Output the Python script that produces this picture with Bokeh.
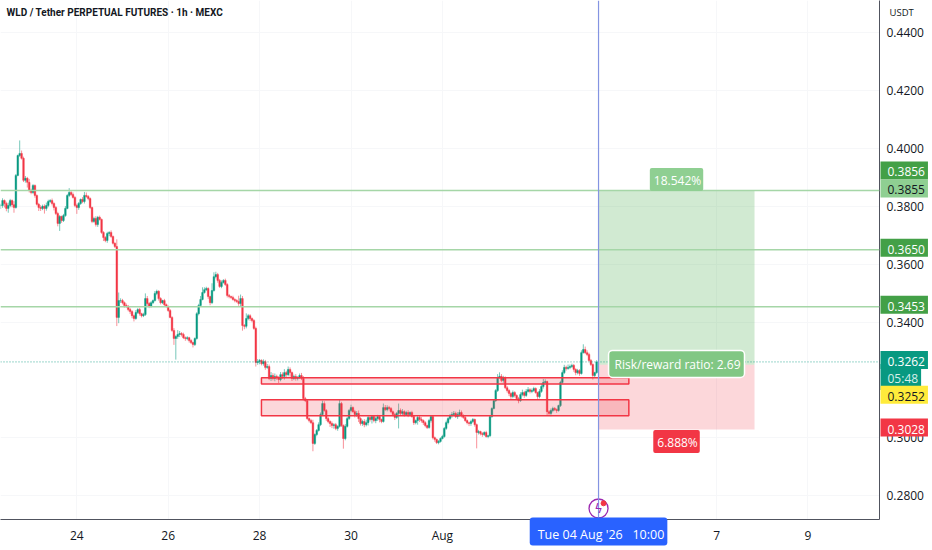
from bokeh.plotting import figure
from bokeh.layouts import column
from bokeh.models import FixedTicker, Label, Span, ColumnDataSource, Range1d
from bokeh.embed import file_html
from bokeh.resources import INLINE

closes = [
.3803,.3820,.3810,.3793,.3803,.3820,.3806,.3796,.3907,.3976,
.3983,.3966,.3890,.3897,.3883,.3855,.3848,.3872,.3838,.3807,
.3796,.3793,.3800,.3793,.3803,.3817,.3820,.3810,.3796,.3775,
.3741,.3765,.3751,.3768,.3793,.3838,.3848,.3841,.3831,.3803,
.3796,.3810,.3824,.3817,.3838,.3834,.3827,.3796,.3748,.3758,
.3737,.3762,.3755,.3710,.3692,.3682,.3706,.3710,.3696,.3672,
.3661,.3416,.3474,.3474,.3467,.3457,.3454,.3443,.3436,.3422,
.3412,.3433,.3443,.3429,.3422,.3426,.3481,.3464,.3454,.3467,
.3474,.3499,.3506,.3481,.3467,.3474,.3460,.3454,.3440,.3416,
.3371,.3343,.3350,.3357,.3360,.3357,.3346,.3343,.3346,.3336,
.3329,.3322,.3343,.3429,.3457,.3478,.3502,.3512,.3516,.3488,
.3467,.3509,.3557,.3564,.3544,.3523,.3537,.3544,.3530,.3492,
.3488,.3485,.3478,.3474,.3471,.3464,.3481,.3388,.3385,.3412,
.3422,.3412,.3405,.3378,.3260,.3263,.3267,.3256,.3263,.3243,
.3246,.3205,.3215,.3205,.3212,.3208,.3201,.3218,.3212,.3225,
.3218,.3236,.3225,.3205,.3212,.3205,.3208,.3215,.3205,.3135,
.3128,.3066,.3059,.3052,.2980,.3011,.3025,.3045,.3080,.3118,
.3094,.3066,.3056,.3049,.3042,.3045,.3032,.3039,.3118,.3042,
.2997,.3039,.3066,.3094,.3104,.3090,.3080,.3084,.3066,.3049,
.3056,.3045,.3052,.3070,.3063,.3073,.3059,.3066,.3073,.3063,
.3056,.3104,.3097,.3104,.3101,.3090,.3080,.3070,.3084,.3094,
.3084,.3090,.3080,.3087,.3080,.3087,.3073,.3052,.3059,.3070,
.3063,.3059,.3052,.3042,.3035,.3059,.3073,.3000,.2994,.2983,
.2987,.2997,.3004,.3032,.3052,.3066,.3076,.3080,.3084,.3073,
.3080,.3087,.3076,.3070,.3059,.3052,.3049,.3056,.3063,.3045,
.3018,.3021,.3014,.3011,.3018,.3004,.3007,.3073,.3101,.3128,
.3163,.3208,.3212,.3198,.3208,.3173,.3163,.3153,.3142,.3156,
.3146,.3135,.3128,.3149,.3156,.3146,.3160,.3166,.3160,.3163,
.3170,.3156,.3142,.3160,.3177,.3191,.3194,.3090,.3084,.3094,
.3101,.3097,.3094,.3111,.3191,.3225,.3243,.3239,.3243,.3246,
.3250,.3236,.3225,.3232,.3222,.3294,.3305,.3294,.3288,.3267,
.3253,.3215,.3225,.3262]

wick_up = [
6,8,4,6,10,6,4,12,5,3, 45,10,6,8,5,12,6,5,4,3, 5,8,6,7,10,6,5,7,4,5, 6,5,3,6,8,4,15,6,7,4,
6,5,3,8,12,10,5,4,3,6, 8,5,6,3,4,5,6,4,7,3, 4,25,28,8,6,4,7,5,6,5, 4,8,5,6,3,6,18,9,5,5,
4,8,6,4,5,3,6,4,3,5, 4,8,4,15,9,5,6,4,5,3, 5,3,4,5,6,12,18,8,6,4, 3,25,15,10,6,5,7,4,6,4,
5,3,6,4,5,20,14,9,5,18, 6,5,4,5,6,9,5,4,8,6, 9,7,12,8,10,6,5,9,8,12, 6,10,7,4,6,8,5,7,9,8,
6,5,4,6,10,4,5,8,7,10, 8,5,6,4,7,5,6,4,14,6, 4,8,6,5,10,4,6,8,10,5, 6,8,10,5,6,4,5,7,6,4,
3,14,9,8,6,5,4,6,5,24, 7,9,5,6,8,4,6,3,4,7, 6,8,4,5,3,6,4,3,4,3, 5,4,6,5,7,5,6,9,8,6,
8,10,7,5,6,4,3,6,5,3, 4,6,3,5,4,6,3,4,4,5, 5,12,14,8,6,4,6,5,4,7, 5,4,6,8,10,6,8,9,5,7,
6,4,3,8,10,12,8,3,5,7, 6,5,4,3,6,8,9,6,10,7, 6,5,4,6,5,8,18,10,8,6, 5,4,3,6]

wick_dn = [
12,8,14,10,15,6,9,18,4,3, 5,4,6,8,18,7,6,5,8,4, 12,9,6,18,8,6,5,7,10,5, 10,26,8,5,4,3,6,5,4,6,
22,8,5,6,7,4,6,5,6,5, 7,8,4,5,12,6,8,9,5,4, 5,30,20,8,6,7,5,6,8,9, 10,4,5,7,6,5,5,8,6,4,
5,3,6,7,6,5,6,4,5,3, 5,22,73,8,9,7,5,8,6,7, 5,10,5,4,6,5,3,4,5,8, 9,5,4,6,8,5,6,4,5,7,
6,5,4,6,5,8,12,18,10,7, 6,8,6,5,14,8,9,6,7,8, 5,6,9,7,10,8,12,6,9,11, 8,6,14,9,6,8,7,5,6,6,
5,4,6,5,27,5,6,4,5,3, 4,8,6,12,9,11,6,8,4,5, 35,6,4,5,6,4,10,8,12,7, 8,9,6,10,7,14,6,9,8,10,
6,4,5,6,7,5,6,9,5,52, 6,8,7,5,9,6,4,8,6,14, 9,7,8,6,5,4,7,6,8,5, 6,4,3,4,5,6,5,7,6,5,
8,7,6,5,4,6,9,8,5,7, 55,7,6,8,5,4,6,5,4,3, 4,5,4,6,8,5,7,9,8,6, 7,5,9,4,6,8,5,4,7,6,
5,4,8,6,5,7,4,12,8,10, 6,5,8,4,5,6,5,7,4,6, 5,8,9,6,8,4,3,5,6,4, 5,14,6,4]

cursor_day = 35.4167          # Tue 04 Aug 10:00, days counted from 1 Jul
last_bar_day = 35.375
position_end_day = 38.83
zone_end_day = 36.08
zone_start_day = 28.04
target_levels = [0.3855, 0.3650, 0.3453]
entry_price = 0.3252
target_price = 0.3855
stop_price = 0.3028
last_price = 0.3262
zones_low = [0.3186, 0.3076]
zones_high = [0.3207, 0.3131]
price_ticks = [0.28, 0.30, 0.34, 0.36, 0.38, 0.40, 0.42, 0.44]
day_ticks = {24: "24", 26: "26", 28: "28", 30: "30", 32: "Aug", 38: "7", 40: "9"}

UP, DOWN = "#089981", "#f23645"
FONT = "Open Sans"
X0, X1, Y0, Y1 = 22.33, 41.565, 0.2717, 0.4512

n = len(closes)
days = [last_bar_day - (n - 1 - i) / 24 for i in range(n)]
opens = [closes[0]] + closes[:-1]
highs = [max(o, c) + w / 10000 for o, c, w in zip(opens, closes, wick_up)]
lows = [min(o, c) - w / 10000 for o, c, w in zip(opens, closes, wick_dn)]
colors = [UP if c >= o else DOWN for o, c in zip(opens, closes)]
src = ColumnDataSource(dict(x=days, o=opens, c=closes, h=highs, l=lows, col=colors))

main = figure(width=932, height=550, frame_width=879, frame_height=519,
              x_range=(X0, X1), y_range=(Y0, Y1),
              y_axis_location="right", output_backend="svg", toolbar_location=None,
              min_border_left=0, min_border_top=0, min_border_right=53, min_border_bottom=31,
              background_fill_color="white", border_fill_color="white")
main.outline_line_color = None
main.grid.grid_line_color = "#f6f7f9"
main.xgrid.ticker = FixedTicker(ticks=list(day_ticks))
main.ygrid.ticker = FixedTicker(ticks=price_ticks)

for ax in (main.xaxis[0], main.yaxis[0]):
    ax.major_tick_line_color = None
    ax.minor_tick_line_color = None
    ax.axis_line_color = "#50535e"
    ax.major_label_text_color = "#131722"
    ax.major_label_text_font = FONT
    ax.major_label_text_font_size = "12px"
main.yaxis[0].ticker = FixedTicker(ticks=price_ticks)
main.yaxis[0].major_label_overrides = {t: f"{t:.4f}" for t in price_ticks}
main.yaxis[0].major_label_standoff = 1
main.xaxis[0].ticker = FixedTicker(ticks=list(day_ticks))
main.xaxis[0].major_label_overrides = day_ticks
main.xaxis[0].major_label_standoff = 1

# position tool
main.quad(left=[cursor_day], right=[position_end_day], bottom=[entry_price], top=[target_price],
          fill_color="#4caf50", fill_alpha=0.26, line_color=None)
main.quad(left=[cursor_day], right=[position_end_day], bottom=[stop_price], top=[entry_price],
          fill_color="#f23645", fill_alpha=0.2, line_color=None)

# candles
main.segment(x0="x", x1="x", y0="l", y1="h", color="col", line_alpha=0.55, line_width=1, source=src)
main.vbar(x="x", width=0.036, bottom="o", top="c", fill_color="col", line_color="col",
          line_width=0.4, source=src)

# zones
main.quad(left=[zone_start_day] * 2, right=[zone_end_day] * 2, bottom=zones_low, top=zones_high,
          fill_color="#f23645", fill_alpha=0.2, line_color="#f23645", line_width=1.5)

for lvl in target_levels:
    main.add_layout(Span(location=lvl, dimension="width", line_color="#a5d6a7", line_width=1.5))
main.add_layout(Span(location=last_price, dimension="width", line_color=UP, line_dash="1 2",
                     line_width=1, line_alpha=0.8))
main.add_layout(Span(location=cursor_day, dimension="height", line_color="#8494e2", line_width=1.2))

# event marker
main.scatter([cursor_day], [0.2755], size=19, marker="circle", fill_color="white",
             line_color="#9c27b0", line_width=1.3)
main.scatter([cursor_day + 0.11], [0.2773], size=5, marker="circle", fill_color=DOWN, line_color=DOWN)

# transparent layer over the whole page, same scales, so tags can sit on the axes
x_per_px = (X1 - X0) / 879
y_per_px = (Y1 - Y0) / 519
top = figure(width=932, height=550, frame_width=932, frame_height=550,
             x_range=Range1d(X0, X0 + 932 * x_per_px), y_range=Range1d(Y1 - 550 * y_per_px, Y1),
             x_axis_location=None, y_axis_location=None, output_backend="svg", toolbar_location=None,
             min_border_left=0, min_border_top=0, min_border_right=0, min_border_bottom=0,
             background_fill_color=None, border_fill_color=None, margin=(-550, 0, 0, 0))
top.outline_line_color = None
top.grid.visible = False


def tag(text, y, bg, color="white", yoff=0):
    top.add_layout(Label(x=880, x_units="screen", y=y, y_offset=yoff + 2, text=text, text_font=FONT,
                         text_font_size="12px", text_color=color, text_baseline="middle",
                         text_align="left", background_fill_color=bg, padding=(7, 3, 6, 3)))


tag("0.3856", 0.3855, "#43a047", yoff=18)
tag("0.3855", 0.3855, "#8fcf92", color="#131722")
tag("0.3650", 0.3650, "#43a047")
tag("0.3453", 0.3453, "#43a047")
tag("05:48", last_price, UP, color="#d5f0ea", yoff=-17)
tag("0.3262", last_price, UP)
tag("0.3252", entry_price, "#ffeb3b", color="#131722", yoff=-32)
tag("0.3028", stop_price, DOWN)

mid_day = (cursor_day + position_end_day) / 2
top.add_layout(Label(x=mid_day, y=target_price, y_offset=11, text="18.542%", text_font=FONT,
                     text_font_size="12px", text_color="white", text_align="center",
                     text_baseline="middle", background_fill_color="#8fcf92", padding=(4, 2, 4, 2),
                     border_radius=2))
top.add_layout(Label(x=mid_day, y=stop_price, y_offset=-12, text="6.888%", text_font=FONT,
                     text_font_size="12px", text_color="white", text_align="center",
                     text_baseline="middle", background_fill_color=DOWN, padding=(4, 2, 4, 2),
                     border_radius=2))
top.add_layout(Label(x=mid_day, y=last_price, y_offset=-2, text="Risk/reward ratio: 2.69", text_font=FONT,
                     text_font_size="12px", text_color="white", text_align="center",
                     text_baseline="middle", background_fill_color="#81c784", padding=(6, 4, 6, 4),
                     border_line_color="white", border_line_width=1.5, border_radius=4))
top.add_layout(Label(x=cursor_day, y=0.2755, text="\u03df", text_font="DejaVu Sans",
                     text_font_size="13px", text_color="#9c27b0", text_align="center",
                     text_baseline="middle"))

# date cursor
top.add_layout(Label(x=cursor_day, y=19, y_units="screen", text="Tue 04 Aug '26\u00a0\u00a0\u00a010:00",
                     text_font=FONT, text_font_size="12.5px", text_color="white", text_align="center",
                     text_baseline="middle", background_fill_color="#2962ff", padding=(8, 3, 8, 3),
                     border_radius=3))

# header
top.add_layout(Label(x=6, x_units="screen", y=538, y_units="screen",
                     text="WLD / Tether PERPETUAL FUTURES \u00b7 1h \u00b7 MEXC",
                     text_font="Roboto", text_font_size="10px",
                     text_font_style="bold", text_color="#131722", text_baseline="middle"))
top.add_layout(Label(x=889, x_units="screen", y=538, y_units="screen", text="USDT", text_font=FONT,
                     text_font_size="9.5px", text_color="#131722", text_baseline="middle"))

page = column(main, top)
open("out.html", "w").write(file_html(page, INLINE))
